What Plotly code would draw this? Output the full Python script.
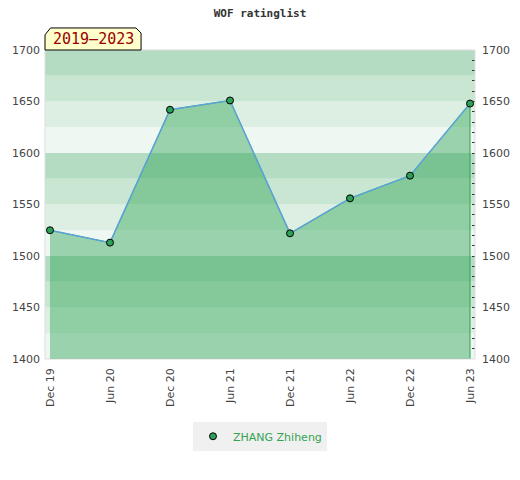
import plotly.graph_objects as go

# reitingo taskai kas pusmeti
periods = ["Dec 19", "Jun 20", "Dec 20", "Jun 21", "Dec 21", "Jun 22", "Dec 22", "Jun 23"]
ratings = [1525, 1513, 1642, 1651, 1522, 1556, 1578, 1648]
y_ticks = [1400, 1450, 1500, 1550, 1600, 1650, 1700]
player = "ZHANG Zhiheng"
span_label = "2019\u20132023"

y_min, y_max = 1400, 1700
x_pos = list(range(len(periods)))

band_colors = ["#eff7f2", "#dcefe2", "#c8e6d2", "#b3dcc3"]

fig = go.Figure()

# uzpildas po linija
fig.add_trace(go.Scatter(
    x=x_pos + [x_pos[-1], x_pos[0]],
    y=ratings + [y_min, y_min],
    fill="toself",
    fillcolor="rgba(43,162,84,0.43)",
    line=dict(color="#2ea24f", width=1),
    mode="lines",
    hoverinfo="skip",
    showlegend=False
))

fig.add_trace(go.Scatter(
    x=x_pos,
    y=ratings,
    mode="lines",
    line=dict(color="#5ba3d9", width=1.5),
    hoverinfo="skip",
    showlegend=False
))

fig.add_trace(go.Scatter(
    x=x_pos,
    y=ratings,
    mode="markers",
    marker=dict(color="#2e9e58", size=7, line=dict(color="black", width=1)),
    name=player
))

# dummy trace for right axis
fig.add_trace(go.Scatter(x=[x_pos[0]], y=[y_min], yaxis="y2", mode="markers",
                         marker=dict(opacity=0), showlegend=False, hoverinfo="skip"))

shapes = []
for i, lo in enumerate(range(y_min, y_max, 25)):
    shapes.append(dict(type="rect", xref="paper", yref="y", x0=0, x1=1, y0=lo, y1=lo + 25,
                       fillcolor=band_colors[i % 4], line=dict(width=0), layer="below"))
shapes.append(dict(type="rect", xref="paper", yref="paper", x0=0, x1=1, y0=0, y1=1,
                   line=dict(color="#dddddd", width=1), layer="above"))
# etikete su nukirstais kampais
shapes.append(dict(type="path", xref="paper", yref="paper",
                   path="M 0,1 L 0,1.049 L 0.0128,1.0713 L 0.2115,1.0713 L 0.2234,1.055 L 0.2234,1 Z",
                   fillcolor="#ffffcc", line=dict(color="black", width=1), layer="above"))

axis_font = dict(family="DejaVu Sans", size=11, color="#444444")

fig.update_layout(
    width=520, height=480,
    margin=dict(l=45, r=45, t=50, b=121, autoexpand=False),
    paper_bgcolor="white",
    plot_bgcolor="white",
    title=dict(text="<b>WOF ratinglist</b>", x=0.5, xanchor="center", y=0.973, yanchor="middle",
               font=dict(family="DejaVu Sans Mono", size=11, color="#333333")),
    xaxis=dict(range=[-0.083, 7.083], tickvals=x_pos, ticktext=periods, tickangle=-90,
               showgrid=False, zeroline=False, ticks="", automargin=False,
               ticklabelstandoff=6, tickfont=axis_font),
    yaxis=dict(range=[y_min, y_max], tickvals=y_ticks, showgrid=False, zeroline=False, ticks="",
               automargin=False, ticklabelstandoff=4, tickfont=axis_font),
    yaxis2=dict(range=[y_min, y_max], tickvals=y_ticks, overlaying="y", side="right",
                showgrid=False, zeroline=False, ticks="inside", ticklen=3, tickcolor="#333333",
                minor=dict(dtick=10, ticks="inside", ticklen=3, tickcolor="#333333"),
                automargin=False, ticklabelstandoff=6, tickfont=axis_font),
    legend=dict(orientation="h", x=0.5, xanchor="center", y=-0.25, yanchor="middle",
                itemwidth=30, bgcolor="#f0f0f0",
                font=dict(family="DejaVu Sans", size=11, color="#33a352")),
    shapes=shapes,
    annotations=[dict(text=span_label, xref="paper", yref="paper", x=0.112, y=1.036,
                      showarrow=False, xanchor="center", yanchor="middle",
                      font=dict(family="DejaVu Sans Mono", size=15, color="#990000"))],
    showlegend=True
)

# nuimam body margin, kad grafikas prasidetu nuo 0,0
fig.write_html("out.html", config={"displayModeBar": False},
               post_script="document.body.style.margin='0';document.body.style.overflow='hidden';")
